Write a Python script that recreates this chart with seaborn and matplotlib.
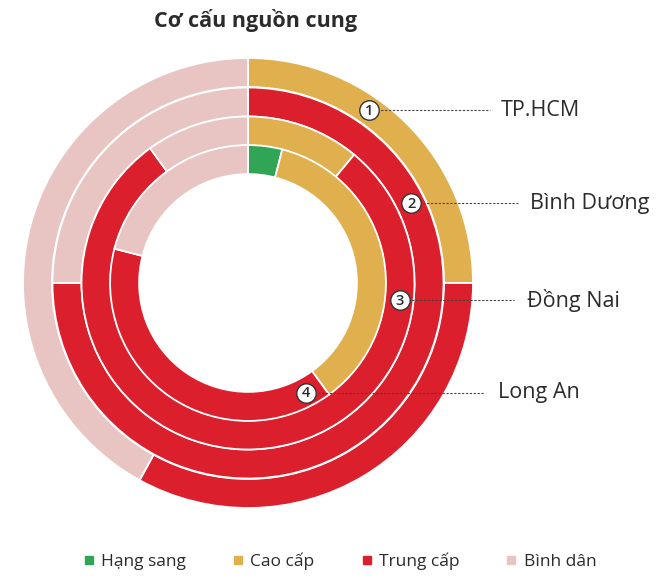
"""
plot.py -- nested donut: supply structure by province
"""
import numpy as np
import matplotlib
matplotlib.use("Agg")
import matplotlib.pyplot as plt
from matplotlib.lines import Line2D
import seaborn as sns

sns.set_theme(style="white")
plt.rcParams["font.family"] = ["Open Sans", "DejaVu Sans"]

# data (percent)
SEGMENTS = ["Hạng sang", "Cao cấp", "Trung cấp", "Bình dân"]
PROVINCES = ["TP.HCM", "Bình Dương", "Đồng Nai", "Long An"]
TPHCM     = [0, 25, 33, 42]
BINHDUONG = [0, 0, 75, 25]
DONGNAI   = [0, 11, 79, 10]
LONGAN    = [4, 36, 39, 21]
RINGS = [TPHCM, BINHDUONG, DONGNAI, LONGAN]

# style
COLORS = sns.color_palette(["#2fa555", "#e0b04f", "#db1f2c", "#e8c5c3"])
TEXT = "#2b2b2b"
R_OUT = [1.0, 0.869, 0.740, 0.613]
WIDTH = 0.129
MARK_ANGLE = [35, 64, 96.5, 152]          # deg, clockwise from 12 o'clock
LINE_END = [(490 - 248) / 225, (518 - 248) / 225, (514 - 248) / 225, (484 - 248) / 225]
LABEL_X = [(501 - 248) / 225, (530 - 248) / 225, (527 - 248) / 225, (498 - 248) / 225]

fig = plt.figure(figsize=(6.66, 5.76), dpi=100, facecolor="white")
ax = fig.add_axes([23 / 666, 68 / 576, 450 / 666, 450 / 576])
ax.set_xlim(-1, 1)
ax.set_ylim(-1, 1)
ax.set_aspect("equal")
ax.axis("off")

for vals, r in zip(RINGS, R_OUT):
    v = [x for x in vals if x > 0]
    c = [col for x, col in zip(vals, COLORS) if x > 0]
    ax.pie(v, colors=c, radius=r, startangle=90, counterclock=False,
           wedgeprops={"width": WIDTH, "edgecolor": "white", "linewidth": 1.3})

ax.set_xlim(-1, 1)
ax.set_ylim(-1, 1)

# numbered markers + leader lines
for i, (name, r) in enumerate(zip(PROVINCES, R_OUT)):
    mid = r - WIDTH / 2 + 0.003
    a = np.deg2rad(MARK_ANGLE[i])
    mx, my = mid * np.sin(a), mid * np.cos(a)
    ax.plot([mx, LINE_END[i]], [my, my], ls=(0, (2, 1.5)), lw=0.8,
            color="#444444", clip_on=False, zorder=3)
    ax.plot(mx, my, "o", ms=14, mfc="white", mec="#333333", mew=1.0,
            clip_on=False, zorder=4)
    ax.text(mx, my - 0.004, str(i + 1), ha="center", va="center", fontsize=10.5,
            fontweight="semibold", color=TEXT, zorder=5)
    ax.text(LABEL_X[i], my, name, ha="left", va="center", fontsize=15.5,
            color=TEXT, clip_on=False)

fig.text(256 / 666, 1 - 21 / 576, "Cơ cấu nguồn cung", ha="center", va="center",
         fontsize=15.5, fontweight="bold", color=TEXT)

handles = [Line2D([], [], marker="s", ls="", ms=6, color=c) for c in COLORS]
fig.legend(handles, SEGMENTS, loc="center", bbox_to_anchor=(0.508, 1 - 561 / 576),
           ncol=4, frameon=False, fontsize=12.5, handletextpad=0.2,
           columnspacing=2.5, handlelength=1.0, labelcolor=TEXT)

plt.savefig("out.png", dpi=100, facecolor="white")
plt.close()
